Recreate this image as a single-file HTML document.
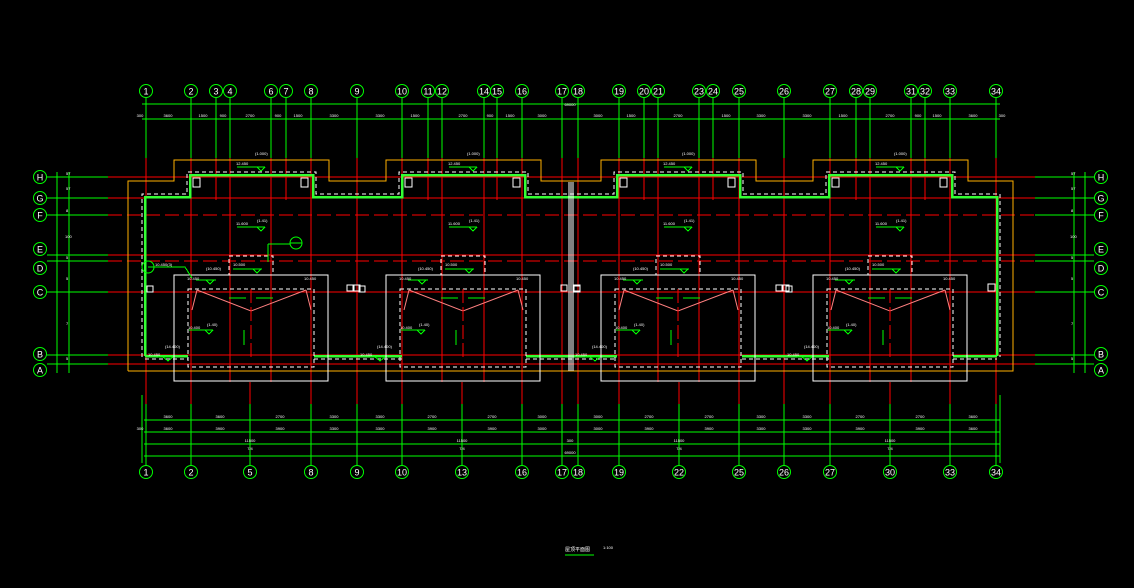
<!DOCTYPE html>
<html><head><meta charset="utf-8"><style>
html,body{margin:0;padding:0;background:#000;width:1134px;height:588px;overflow:hidden}
svg{display:block}
path,line,rect,polyline{shape-rendering:crispEdges}
text{font-family:"Liberation Sans",sans-serif;fill:#fff}
.c{fill:none;stroke:#00ff00;stroke-width:1}
.a text{font-size:9px;text-anchor:middle}
.d{font-size:4px}
</style></head><body>
<svg width="1134" height="588" viewBox="0 0 1134 588" xmlns="http://www.w3.org/2000/svg">
<rect width="1134" height="588" fill="#000"/>
<g stroke="#ff0000" stroke-width="1" fill="none">
<path d="M108 177H1035M108 198H1035M108 255H1035M108 292H1035M108 355H1035M108 364H1035"/>
<path d="M108 215H1035M108 261H1035" stroke-dasharray="14,5"/>
</g>
<path stroke="#00ff00" fill="none" d="M47 177H108M47 198H108M47 215H108M47 255H108M47 261H108M47 292H108M47 355H108M47 364H108M1035 177H1094M1035 198H1094M1035 215H1094M1035 255H1094M1035 261H1094M1035 292H1094M1035 355H1094M1035 364H1094M57 172V373M69 172V373M1074 172V373M1085 172V373"/>
<g class="a">
<circle class="c" cx="40" cy="177" r="6.5"/><text x="40" y="180.5">H</text>
<circle class="c" cx="40" cy="198" r="6.5"/><text x="40" y="201.5">G</text>
<circle class="c" cx="40" cy="215" r="6.5"/><text x="40" y="218.5">F</text>
<circle class="c" cx="40" cy="249" r="6.5"/><text x="40" y="252.5">E</text>
<circle class="c" cx="40" cy="268" r="6.5"/><text x="40" y="271.5">D</text>
<circle class="c" cx="40" cy="292" r="6.5"/><text x="40" y="295.5">C</text>
<circle class="c" cx="40" cy="354" r="6.5"/><text x="40" y="357.5">B</text>
<circle class="c" cx="40" cy="370" r="6.5"/><text x="40" y="373.5">A</text>
<circle class="c" cx="1101" cy="177" r="6.5"/><text x="1101" y="180.5">H</text>
<circle class="c" cx="1101" cy="198" r="6.5"/><text x="1101" y="201.5">G</text>
<circle class="c" cx="1101" cy="215" r="6.5"/><text x="1101" y="218.5">F</text>
<circle class="c" cx="1101" cy="249" r="6.5"/><text x="1101" y="252.5">E</text>
<circle class="c" cx="1101" cy="268" r="6.5"/><text x="1101" y="271.5">D</text>
<circle class="c" cx="1101" cy="292" r="6.5"/><text x="1101" y="295.5">C</text>
<circle class="c" cx="1101" cy="354" r="6.5"/><text x="1101" y="357.5">B</text>
<circle class="c" cx="1101" cy="370" r="6.5"/><text x="1101" y="373.5">A</text>
</g>
<g class="d">
<text x="66" y="175">57</text><text x="66" y="190">57</text><text x="66" y="212">8</text><text x="65" y="238">100</text><text x="66" y="259">5</text><text x="66" y="280">5</text><text x="66" y="325">7</text><text x="66" y="360">5</text>
<text x="1071" y="175">57</text><text x="1071" y="190">57</text><text x="1071" y="212">8</text><text x="1070" y="238">100</text><text x="1071" y="259">5</text><text x="1071" y="280">5</text><text x="1071" y="325">7</text><text x="1071" y="360">5</text>
</g>
<path stroke="#00ff00" fill="none" d="M146 98V158M191 98V158M216 98V158M230 98V158M271 98V158M286 98V158M311 98V158M357 98V158M402 98V158M428 98V158M442 98V158M484 98V158M497 98V158M522 98V158M562 98V158M578 98V158M619 98V158M644 98V158M658 98V158M699 98V158M713 98V158M739 98V158M784 98V158M830 98V158M856 98V158M870 98V158M911 98V158M925 98V158M950 98V158M996 98V158M142 104H1000M142 119H1000"/>
<path stroke="#ff0000" fill="none" d="M146 158V382M191 158V382M216 158V200M230 158V382M271 158V382M286 158V200M311 158V382M357 158V382M402 158V382M428 158V200M442 158V382M484 158V382M497 158V200M522 158V382M562 158V382M578 158V382M619 158V382M644 158V200M658 158V382M699 158V382M713 158V200M739 158V382M784 158V382M830 158V382M856 158V200M870 158V382M911 158V382M925 158V200M950 158V382M996 158V382"/>
<g class="a">
<circle class="c" cx="146" cy="91" r="6.5"/><text x="146" y="94.5">1</text>
<circle class="c" cx="191" cy="91" r="6.5"/><text x="191" y="94.5">2</text>
<circle class="c" cx="216" cy="91" r="6.5"/><text x="216" y="94.5">3</text>
<circle class="c" cx="230" cy="91" r="6.5"/><text x="230" y="94.5">4</text>
<circle class="c" cx="271" cy="91" r="6.5"/><text x="271" y="94.5">6</text>
<circle class="c" cx="286" cy="91" r="6.5"/><text x="286" y="94.5">7</text>
<circle class="c" cx="311" cy="91" r="6.5"/><text x="311" y="94.5">8</text>
<circle class="c" cx="357" cy="91" r="6.5"/><text x="357" y="94.5">9</text>
<circle class="c" cx="402" cy="91" r="6.5"/><text x="402" y="94.5">10</text>
<circle class="c" cx="428" cy="91" r="6.5"/><text x="428" y="94.5">11</text>
<circle class="c" cx="442" cy="91" r="6.5"/><text x="442" y="94.5">12</text>
<circle class="c" cx="484" cy="91" r="6.5"/><text x="484" y="94.5">14</text>
<circle class="c" cx="497" cy="91" r="6.5"/><text x="497" y="94.5">15</text>
<circle class="c" cx="522" cy="91" r="6.5"/><text x="522" y="94.5">16</text>
<circle class="c" cx="562" cy="91" r="6.5"/><text x="562" y="94.5">17</text>
<circle class="c" cx="578" cy="91" r="6.5"/><text x="578" y="94.5">18</text>
<circle class="c" cx="619" cy="91" r="6.5"/><text x="619" y="94.5">19</text>
<circle class="c" cx="644" cy="91" r="6.5"/><text x="644" y="94.5">20</text>
<circle class="c" cx="658" cy="91" r="6.5"/><text x="658" y="94.5">21</text>
<circle class="c" cx="699" cy="91" r="6.5"/><text x="699" y="94.5">23</text>
<circle class="c" cx="713" cy="91" r="6.5"/><text x="713" y="94.5">24</text>
<circle class="c" cx="739" cy="91" r="6.5"/><text x="739" y="94.5">25</text>
<circle class="c" cx="784" cy="91" r="6.5"/><text x="784" y="94.5">26</text>
<circle class="c" cx="830" cy="91" r="6.5"/><text x="830" y="94.5">27</text>
<circle class="c" cx="856" cy="91" r="6.5"/><text x="856" y="94.5">28</text>
<circle class="c" cx="870" cy="91" r="6.5"/><text x="870" y="94.5">29</text>
<circle class="c" cx="911" cy="91" r="6.5"/><text x="911" y="94.5">31</text>
<circle class="c" cx="925" cy="91" r="6.5"/><text x="925" y="94.5">32</text>
<circle class="c" cx="950" cy="91" r="6.5"/><text x="950" y="94.5">33</text>
<circle class="c" cx="996" cy="91" r="6.5"/><text x="996" y="94.5">34</text>
</g>
<g class="d" text-anchor="middle">
<text x="140" y="117">300</text><text x="168" y="117">3600</text><text x="203" y="117">1500</text><text x="223" y="117">900</text><text x="250" y="117">2700</text><text x="278" y="117">900</text><text x="298" y="117">1500</text><text x="334" y="117">3300</text><text x="380" y="117">3300</text><text x="415" y="117">1500</text><text x="463" y="117">2700</text><text x="490" y="117">900</text><text x="510" y="117">1500</text><text x="542" y="117">3000</text><text x="598" y="117">3000</text><text x="631" y="117">1500</text><text x="678" y="117">2700</text><text x="726" y="117">1500</text><text x="761" y="117">3300</text><text x="807" y="117">3300</text><text x="843" y="117">1500</text><text x="890" y="117">2700</text><text x="918" y="117">900</text><text x="937" y="117">1500</text><text x="973" y="117">3600</text><text x="1002" y="117">300</text>
<text x="570" y="106">69000</text>
</g>
<path stroke="#ff0000" fill="none" d="M146 382V404M191 382V404M250 382V404M311 382V404M357 382V404M402 382V404M462 382V404M522 382V404M562 382V404M578 382V404M619 382V404M679 382V404M739 382V404M784 382V404M830 382V404M890 382V404M950 382V404M996 382V404"/>
<path stroke="#00ff00" fill="none" d="M146 404V466M191 404V466M250 404V466M311 404V466M357 404V466M402 404V466M462 404V466M522 404V466M562 404V466M578 404V466M619 404V466M679 404V466M739 404V466M784 404V466M830 404V466M890 404V466M950 404V466M996 404V466M142 395V463M1000 395V463M144 420H1000M144 432H1000M144 444H1000M144 456H1000"/>
<g class="a">
<circle class="c" cx="146" cy="472" r="6.5"/><text x="146" y="475.5">1</text>
<circle class="c" cx="191" cy="472" r="6.5"/><text x="191" y="475.5">2</text>
<circle class="c" cx="250" cy="472" r="6.5"/><text x="250" y="475.5">5</text>
<circle class="c" cx="311" cy="472" r="6.5"/><text x="311" y="475.5">8</text>
<circle class="c" cx="357" cy="472" r="6.5"/><text x="357" y="475.5">9</text>
<circle class="c" cx="402" cy="472" r="6.5"/><text x="402" y="475.5">10</text>
<circle class="c" cx="462" cy="472" r="6.5"/><text x="462" y="475.5">13</text>
<circle class="c" cx="522" cy="472" r="6.5"/><text x="522" y="475.5">16</text>
<circle class="c" cx="562" cy="472" r="6.5"/><text x="562" y="475.5">17</text>
<circle class="c" cx="578" cy="472" r="6.5"/><text x="578" y="475.5">18</text>
<circle class="c" cx="619" cy="472" r="6.5"/><text x="619" y="475.5">19</text>
<circle class="c" cx="679" cy="472" r="6.5"/><text x="679" y="475.5">22</text>
<circle class="c" cx="739" cy="472" r="6.5"/><text x="739" y="475.5">25</text>
<circle class="c" cx="784" cy="472" r="6.5"/><text x="784" y="475.5">26</text>
<circle class="c" cx="830" cy="472" r="6.5"/><text x="830" y="475.5">27</text>
<circle class="c" cx="890" cy="472" r="6.5"/><text x="890" y="475.5">30</text>
<circle class="c" cx="950" cy="472" r="6.5"/><text x="950" y="475.5">33</text>
<circle class="c" cx="996" cy="472" r="6.5"/><text x="996" y="475.5">34</text>
</g>
<g class="d" text-anchor="middle">
<text x="168" y="418">3600</text><text x="220" y="418">3600</text><text x="280" y="418">2700</text><text x="334" y="418">3300</text><text x="380" y="418">3300</text><text x="432" y="418">2700</text><text x="492" y="418">2700</text><text x="542" y="418">3000</text><text x="598" y="418">3000</text><text x="649" y="418">2700</text><text x="709" y="418">2700</text><text x="761" y="418">3300</text><text x="807" y="418">3300</text><text x="860" y="418">2700</text><text x="920" y="418">2700</text><text x="973" y="418">3600</text>
<text x="140" y="430">300</text><text x="168" y="430">3600</text><text x="220" y="430">3900</text><text x="280" y="430">3900</text><text x="334" y="430">3300</text><text x="380" y="430">3300</text><text x="432" y="430">3900</text><text x="492" y="430">3900</text><text x="542" y="430">3000</text><text x="598" y="430">3000</text><text x="649" y="430">3900</text><text x="709" y="430">3900</text><text x="761" y="430">3300</text><text x="807" y="430">3300</text><text x="860" y="430">3900</text><text x="920" y="430">3900</text><text x="973" y="430">3600</text>
<text x="250" y="442">11500</text><text x="250" y="450">7/4</text><text x="462" y="442">11500</text><text x="462" y="450">7/4</text><text x="679" y="442">11500</text><text x="679" y="450">7/4</text><text x="890" y="442">11500</text><text x="890" y="450">7/4</text>
<text x="570" y="442">300</text><text x="570" y="454">69000</text>
</g>
<polyline fill="none" stroke="#ffb000" points="128,371 128,181 174,181 174,160 329,160 329,181 386,181 386,160 541,160 541,181 601,181 601,160 756,160 756,181 813,181 813,160 968,160 968,181 1013,181 1013,371 128,371"/>
<polyline fill="none" stroke="#33ff33" stroke-width="2.5" points="145,356 145,197 190,197 190,175 313,175 313,197 402,197 402,175 525,175 525,197 617,197 617,175 740,175 740,197 829,197 829,175 952,175 952,197 997,197 997,356"/>
<polyline fill="none" stroke="#fff" stroke-dasharray="4,3" points="142,357 142,194 187,194 187,172 316,172 316,194 399,194 399,172 528,172 528,194 614,194 614,172 743,172 743,194 826,194 826,172 955,172 955,194 1000,194 1000,357"/>
<path stroke="#33ff33" stroke-width="2.5" d="M145 356H188M314 356H402M526 356H617M742 356H829M953 356H997"/>
<path stroke="#fff" stroke-dasharray="4,3" d="M145 359H188M314 359H402M526 359H617M742 359H829M953 359H997"/>
<path stroke="#fff" d="M569 182V371M571 182V371M573 182V371"/>
<defs>
<g id="u">
<rect x="174" y="275" width="154" height="106" fill="none" stroke="#fff"/>
<rect x="188" y="289" width="126" height="78" fill="none" stroke="#fff" stroke-dasharray="4,3"/>
<rect x="229" y="256" width="44" height="19" fill="none" stroke="#fff" stroke-dasharray="4,3"/>
<polyline fill="none" stroke="#ff8080" style="shape-rendering:auto" points="197,290 251,311 306,290"/>
<path stroke="#ff8080" style="shape-rendering:auto" d="M197 290L192 310M306 290L311 310"/>
<path stroke="#ff0000" stroke-dasharray="14,4" d="M251 289V360"/>
<rect x="193" y="178" width="7" height="9" fill="none" stroke="#fff"/>
<rect x="301" y="178" width="7" height="9" fill="none" stroke="#fff"/>
<rect x="147" y="286" width="6" height="6" fill="none" stroke="#fff"/>
<path fill="none" stroke="#00ff00" d="M237 167H265M257 167L261 171L265 167M237 227H265M257 227L261 231L265 227M233 269H262M253 269L257 273L261 269M196 280H216M206 280L210 284L214 280M189 330H213M205 330L209 334L213 330M229 298H246M256 298H273M244 330V345M158 357H173M163 357L168 361L173 357"/>
</g>
</defs>
<use href="#u"/>
<use href="#u" transform="translate(212,0)"/>
<use href="#u" transform="translate(427,0)"/>
<use href="#u" transform="translate(639,0)"/>
<g class="d">
<text x="236" y="165">12.450</text><text x="255" y="155">(1.000)</text><text x="236" y="225">11.600</text><text x="257" y="222">(1.41)</text><text x="233" y="266">10.500</text><text x="206" y="270">(10.450)</text><text x="187" y="280">10.450</text><text x="304" y="280">10.450</text><text x="188" y="329">10.400</text><text x="207" y="326">(1.40)</text><text x="165" y="348">(14.400)</text><text x="148" y="356">10.450</text>
<text x="448" y="165">12.450</text><text x="467" y="155">(1.000)</text><text x="448" y="225">11.600</text><text x="469" y="222">(1.41)</text><text x="445" y="266">10.500</text><text x="418" y="270">(10.450)</text><text x="399" y="280">10.450</text><text x="516" y="280">10.450</text><text x="400" y="329">10.400</text><text x="419" y="326">(1.40)</text><text x="377" y="348">(14.400)</text><text x="360" y="356">10.450</text>
<text x="663" y="165">12.450</text><text x="682" y="155">(1.000)</text><text x="663" y="225">11.600</text><text x="684" y="222">(1.41)</text><text x="660" y="266">10.500</text><text x="633" y="270">(10.450)</text><text x="614" y="280">10.450</text><text x="731" y="280">10.450</text><text x="615" y="329">10.400</text><text x="634" y="326">(1.40)</text><text x="592" y="348">(14.400)</text><text x="575" y="356">10.450</text>
<text x="875" y="165">12.450</text><text x="894" y="155">(1.000)</text><text x="875" y="225">11.600</text><text x="896" y="222">(1.41)</text><text x="872" y="266">10.500</text><text x="845" y="270">(10.450)</text><text x="826" y="280">10.450</text><text x="943" y="280">10.450</text><text x="827" y="329">10.400</text><text x="846" y="326">(1.40)</text><text x="804" y="348">(14.400)</text><text x="787" y="356">10.450</text>
</g>
<path fill="none" stroke="#fff" d="M347 285h6v6h-6zM354 285h6v6h-6zM561 285h6v6h-6zM574 285h6v6h-6zM776 285h6v6h-6zM783 285h6v6h-6zM988 284h7v7h-7z"/>
<circle cx="296" cy="243" r="6" fill="none" stroke="#00ff00"/>
<circle cx="148" cy="267" r="6" fill="none" stroke="#00ff00"/>
<path fill="none" stroke="#00ff00" d="M290 243H302M268 244H290M268 244V262M148 267H185L192 278"/>
<text class="d" x="155" y="266">10.450(3)</text>
<text x="565" y="551" font-size="5">屋顶平面图</text>
<path stroke="#00ff00" d="M565 555H594"/>
<text class="d" x="603" y="549">1:100</text>
</svg>
</body></html>
